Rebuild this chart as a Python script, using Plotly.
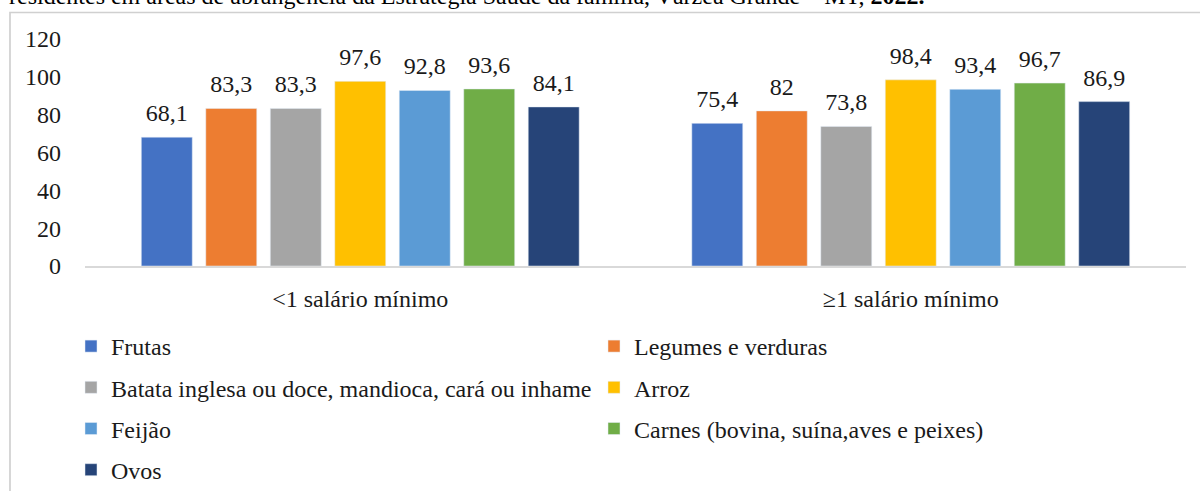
import plotly.graph_objects as go

categories = ["<1 salário mínimo", "≥1 salário mínimo"]
series_names = [
    "Frutas",
    "Legumes e verduras",
    "Batata inglesa ou doce, mandioca, cará ou inhame",
    "Arroz",
    "Feijão",
    "Carnes (bovina, suína,aves e peixes)",
    "Ovos",
]
frutas = [68.1, 75.4]
legumes = [83.3, 82]
batata = [83.3, 73.8]
arroz = [97.6, 98.4]
feijao = [92.8, 93.4]
carnes = [93.6, 96.7]
ovos = [84.1, 86.9]
series_values = [frutas, legumes, batata, arroz, feijao, carnes, ovos]
colors = ["#4472C4", "#ED7D31", "#A5A5A5", "#FFC000", "#5B9BD5", "#70AD47", "#264478"]
y_ticks = [0, 20, 40, 60, 80, 100, 120]
title_text = ("residentes em áreas de abrangência da Estratégia Saúde da família, "
              "Várzea Grande – MT, <b>2022.</b>")

W, H = 1200, 491
L, R, T, B = 85, 14, 39, 225
PW, PH = W - L - R, H - T - B
FONT = "Liberation Serif, Times New Roman, Times, serif"
FS = 24
TXT = "#1a1a1a"


def px_x(px):
    return (px - L) / PW


def px_y(py):
    return (H - B - py) / PH


def fmt(v):
    return f"{v:g}".replace(".", ",")


fig = go.Figure()
for i, (name, vals, col) in enumerate(zip(series_names, series_values, colors)):
    labels = [
        f"<span style='font-size:{FS}px'>{fmt(v)}</span><br>"
        f"<span style='font-size:2px;color:white'>.</span>"
        for v in vals
    ]
    fig.add_trace(go.Bar(
        name=name, x=categories, y=vals, marker_color=col,
        text=labels, textposition="outside", constraintext="none",
        cliponaxis=False,
        textfont=dict(family=FONT, size=10, color=TXT),
        legendgroup=name,
        legend="legend" if i % 2 == 0 else "legend2",
        hoverinfo="x+y+name",
    ))

fig.update_layout(
    width=W, height=H,
    margin=dict(l=L, r=R, t=T, b=B, autoexpand=False),
    paper_bgcolor="white", plot_bgcolor="white",
    barmode="group", bargap=0.18, bargroupgap=0.21,
    font=dict(family=FONT, size=FS, color=TXT),
    showlegend=True,
    legend=dict(orientation="v", x=px_x(71), y=px_y(324), xanchor="left", yanchor="top",
                tracegroupgap=7, font=dict(family=FONT, size=FS, color=TXT),
                bgcolor="rgba(0,0,0,0)"),
    legend2=dict(orientation="v", x=px_x(594), y=px_y(324), xanchor="left", yanchor="top",
                 tracegroupgap=7, font=dict(family=FONT, size=FS, color=TXT),
                 bgcolor="rgba(0,0,0,0)"),
    xaxis=dict(showline=True, linecolor="#d9d9d9", linewidth=1.5, ticks="",
               showgrid=False, ticklabelstandoff=10,
               tickfont=dict(family=FONT, size=FS, color=TXT)),
    yaxis=dict(range=[0, 120], tickvals=y_ticks, showgrid=False, zeroline=False,
               showline=False, ticks="", ticklabelstandoff=23,
               tickfont=dict(family=FONT, size=FS, color=TXT)),
    shapes=[dict(type="rect", xref="paper", yref="paper",
                 x0=px_x(10), x1=px_x(1230), y0=px_y(12.5), y1=px_y(520),
                 line=dict(color="#d0d0d0", width=1.7), fillcolor="rgba(0,0,0,0)",
                 layer="below")],
    annotations=[dict(text=title_text, xref="paper", yref="paper",
                      x=px_x(7), y=px_y(11), xanchor="left", yanchor="bottom",
                      showarrow=False, font=dict(family=FONT, size=FS, color="black"))],
)

fig.write_html("out.html", config={"displayModeBar": False},
               post_script="document.body.style.margin='0';")
